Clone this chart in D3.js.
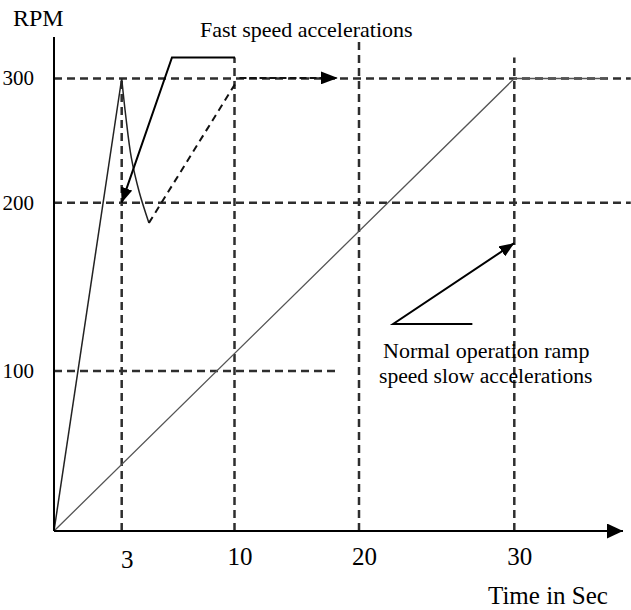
<!DOCTYPE html>
<html><head><meta charset="utf-8">
<script src="https://cdn.jsdelivr.net/npm/d3@7"></script>
<style>
body{margin:0;background:#fff}
text{font-family:"Liberation Serif","Times New Roman",serif;fill:#000}
</style>
</head><body>
<svg id="c" width="631" height="610"></svg>
<script>
// ---- data (time in s, speed in RPM) ----
const xTicks = [3, 10, 20, 30];
const xTickLabels = ["3", "10", "20", "30"];
const yTicks = [100, 200, 300];
const yTickLabels = ["100", "200", "300"];
// top extent of each vertical dashed guide (RPM)
const xGuideTop = [300, 317, 333, 317];
// right extent of each horizontal dashed guide (s)
const yGuideEnd = [18.1, 37.5, 37.5];

const fastRise = [[0, 0], [3, 300]];
const fastDrop = [[3, 300], [3.25, 270], [3.6, 236], [4.1, 208], [4.69, 188]];
const fastRecover = [[4.69, 188], [10.2, 298]];
const fastHold = [[10.4, 300.5], [18.3, 300.5]];
const normalRamp = [[0, 0], [30, 300], [36, 300]];
const fastLeader = [[10.04, 317], [6.12, 317], [3, 200]];
const normalLeader = [[27.3, 128], [22.2, 128], [30, 176]];

const xAxisEnd = 37;
const yAxisTop = 333.4;

// ---- scales ----
const x = d3.scaleLinear().domain([0, 3, 10, 20, 30]).range([54, 121.7, 234.5, 359, 514.3]);
const y = d3.scaleLinear().domain([0, 100, 200, 300]).range([531, 371, 202.7, 78.5]);

const svg = d3.select("#c");
const defs = svg.append("defs");
function marker(id, w, h) {
  defs.append("marker").attr("id", id)
    .attr("markerUnits", "userSpaceOnUse")
    .attr("markerWidth", w).attr("markerHeight", h)
    .attr("refX", w).attr("refY", h / 2)
    .attr("orient", "auto")
    .append("path").attr("d", `M0,0L${w},${h / 2}L0,${h}Z`).attr("fill", "#000");
}
marker("axisHead", 16, 15);
marker("head", 15, 12);
marker("headBig", 17, 13);

const line = d3.line().x(d => x(d[0])).y(d => y(d[1]));

// ---- dashed guides ----
const guideColor = "#2e2e2e";
svg.append("g").selectAll("line").data(xTicks).join("line")
  .attr("x1", d => x(d)).attr("x2", d => x(d))
  .attr("y1", y(0)).attr("y2", (d, i) => y(xGuideTop[i]))
  .attr("stroke", guideColor).attr("stroke-width", 2.5).attr("stroke-dasharray", "8,5");
svg.append("g").selectAll("line").data(yTicks).join("line")
  .attr("x1", x(0)).attr("x2", (d, i) => x(yGuideEnd[i]))
  .attr("y1", d => y(d)).attr("y2", d => y(d))
  .attr("stroke", guideColor).attr("stroke-width", 2.5).attr("stroke-dasharray", "8,5");

// ---- normal ramp ----
svg.append("path").attr("d", line(normalRamp))
  .attr("fill", "none").attr("stroke", "#555").attr("stroke-width", 1.3);

// ---- fast acceleration ----
svg.append("path").attr("d", line(fastRise))
  .attr("fill", "none").attr("stroke", "#222").attr("stroke-width", 1.5);
svg.append("path").attr("d", line.curve(d3.curveCatmullRom)(fastDrop))
  .attr("fill", "none").attr("stroke", "#222").attr("stroke-width", 1.5);
line.curve(d3.curveLinear);
svg.append("path").attr("d", line(fastRecover))
  .attr("fill", "none").attr("stroke", "#111").attr("stroke-width", 2).attr("stroke-dasharray", "7,5");
svg.append("path").attr("d", line(fastHold))
  .attr("fill", "none").attr("stroke", "#111").attr("stroke-width", 2).attr("stroke-dasharray", "7,3")
  .attr("marker-end", "url(#headBig)");

// ---- leaders ----
svg.append("path").attr("d", line(fastLeader))
  .attr("fill", "none").attr("stroke", "#000").attr("stroke-width", 2)
  .attr("marker-end", "url(#head)");
svg.append("path").attr("d", line(normalLeader))
  .attr("fill", "none").attr("stroke", "#000").attr("stroke-width", 2)
  .attr("marker-end", "url(#head)");

// ---- axes ----
svg.append("line").attr("x1", x(0)).attr("x2", x(xAxisEnd)).attr("y1", y(0)).attr("y2", y(0))
  .attr("stroke", "#000").attr("stroke-width", 2).attr("marker-end", "url(#axisHead)");
svg.append("line").attr("x1", x(0)).attr("x2", x(0)).attr("y1", y(0)).attr("y2", y(yAxisTop))
  .attr("stroke", "#000").attr("stroke-width", 2);

const xAxis = svg.append("g").attr("transform", `translate(0,${y(0)})`)
  .call(d3.axisBottom(x).tickValues(xTicks).tickSize(0).tickFormat((d, i) => xTickLabels[i]));
xAxis.select(".domain").remove();
xAxis.attr("font-family", null).attr("font-size", null);
xAxis.selectAll("text").attr("font-size", 25).attr("dx", 5)
  .attr("y", (d, i) => i === 0 ? 37 : 34).attr("dy", null).style("fill", "#000");

const yAxis = svg.append("g").attr("transform", `translate(${x(0)},0)`)
  .call(d3.axisLeft(y).tickValues(yTicks).tickSize(0).tickPadding(20).tickFormat((d, i) => yTickLabels[i]));
yAxis.select(".domain").remove();
yAxis.attr("font-family", null).attr("font-size", null);
yAxis.selectAll("text").attr("font-size", 21).attr("dy", "0.3em").style("fill", "#000");

// ---- titles & annotations ----
svg.append("text").attr("x", 13).attr("y", 26).attr("font-size", 24).text("RPM");
svg.append("text").attr("x", 200).attr("y", 37).attr("font-size", 22).text("Fast speed accelerations");
svg.append("text").attr("x", 488).attr("y", 604).attr("font-size", 25).text("Time in Sec");
svg.append("text").attr("x", 383).attr("y", 358).attr("font-size", 22).text("Normal operation ramp");
svg.append("text").attr("x", 379).attr("y", 383).attr("font-size", 21.6).text("speed slow accelerations");
</script>
</body></html>
